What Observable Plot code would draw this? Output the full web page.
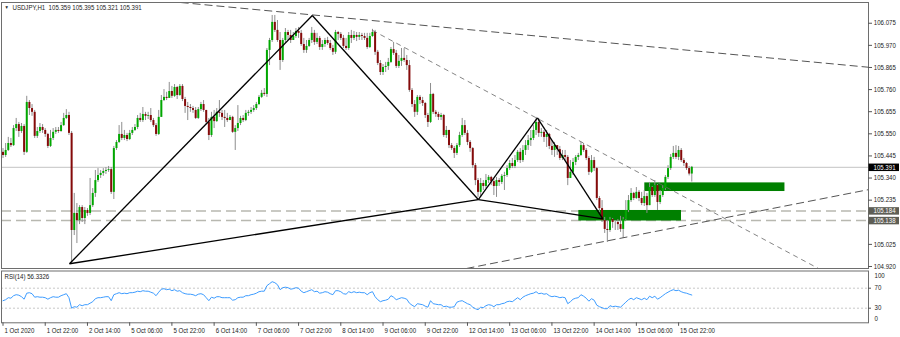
<!DOCTYPE html>
<html><head><meta charset="utf-8">
<script src="https://cdn.jsdelivr.net/npm/d3@7"></script>
<script src="https://cdn.jsdelivr.net/npm/@observablehq/plot@0.6"></script>
<style>
body{margin:0;background:#fff;}
#wrap{width:900px;height:337px;overflow:hidden;background:#fff;}
#wrap svg{display:block;}
</style></head><body><div id="wrap"></div>
<script>
// ---------- data (USDJPY, H1) ----------
const symbolTitle = "USDJPY,H1  105.359 105.395 105.321 105.391";
const firstOpen = 105.462;
const closes = [105.447,105.471,105.504,105.494,105.575,105.594,105.561,105.585,105.462,105.699,
105.670,105.652,105.538,105.561,105.580,105.566,105.547,105.490,105.528,105.557,
105.566,105.561,105.589,105.623,105.637,105.552,105.091,105.172,105.138,105.200,
105.148,105.186,105.172,105.209,105.267,105.328,105.352,105.362,105.371,105.376,
105.380,105.272,105.480,105.509,105.547,105.528,105.542,105.523,105.552,105.566,
105.580,105.623,105.613,105.642,105.633,105.637,105.613,105.589,105.547,105.628,
105.708,105.723,105.718,105.751,105.728,105.770,105.732,105.775,105.713,105.680,
105.675,105.670,105.661,105.623,105.665,105.689,105.661,105.604,105.542,105.628,
105.608,105.652,105.647,105.628,105.623,105.613,105.628,105.557,105.575,105.599,
105.623,105.613,105.647,105.652,105.661,105.670,105.689,105.723,105.742,105.737,
105.946,105.993,106.079,106.041,105.993,105.898,105.993,106.031,106.017,105.993,
106.012,106.036,106.027,105.974,105.946,105.965,105.993,106.027,105.984,106.003,
105.960,105.974,105.993,105.979,105.955,105.937,106.031,106.022,106.003,105.965,
105.955,106.017,106.003,106.017,106.008,106.017,106.012,106.003,105.960,106.012,
106.031,105.937,105.884,105.841,105.865,105.870,105.889,105.950,105.932,105.870,
105.894,105.908,105.898,105.874,105.756,105.689,105.652,105.723,105.708,105.694,
105.637,105.604,105.737,105.652,105.642,105.628,105.637,105.542,105.566,105.494,
105.480,105.457,105.494,105.542,105.589,105.552,105.509,105.480,105.399,105.328,
105.272,105.314,105.300,105.328,105.343,105.323,105.300,105.328,105.319,105.348,
105.352,105.385,105.409,105.395,105.423,105.462,105.423,105.471,105.494,105.518,
105.528,105.566,105.604,105.552,105.557,105.533,105.547,105.490,105.471,105.494,
105.475,105.433,105.447,105.438,105.338,105.367,105.414,105.438,105.447,105.494,
105.471,105.433,105.367,105.423,105.385,105.243,105.195,105.138,105.096,105.091,
105.143,105.129,105.129,105.119,105.096,105.143,105.186,105.233,105.267,105.243,
105.272,105.243,105.219,105.252,105.209,105.295,105.257,105.304,105.224,105.257,
105.290,105.343,105.385,105.438,105.457,105.438,105.471,105.423,105.409,105.385,
105.359,105.391];
const highs = [105.480,105.504,105.533,105.528,105.589,105.623,105.604,105.599,105.594,105.728,
105.708,105.689,105.661,105.580,105.599,105.594,105.575,105.552,105.566,105.575,
105.580,105.580,105.604,105.647,105.665,105.652,105.561,105.267,105.219,105.209,
105.209,105.200,105.195,105.338,105.290,105.376,105.385,105.376,105.385,105.390,
105.395,105.390,105.490,105.518,105.589,105.604,105.566,105.552,105.566,105.580,
105.594,105.637,105.647,105.675,105.652,105.652,105.670,105.623,105.599,105.661,
105.732,105.760,105.747,105.794,105.775,105.784,105.775,105.784,105.784,105.723,
105.699,105.689,105.680,105.675,105.675,105.699,105.708,105.661,105.623,105.652,
105.661,105.670,105.708,105.661,105.661,105.647,105.637,105.633,105.589,105.684,
105.633,105.637,105.661,105.661,105.675,105.684,105.699,105.732,105.756,105.765,
105.955,106.003,106.112,106.112,106.088,106.031,106.003,106.050,106.041,106.041,
106.031,106.050,106.055,106.041,106.003,105.993,106.003,106.055,106.041,106.027,
106.012,105.993,106.003,106.008,105.993,105.970,106.041,106.036,106.031,106.017,
106.003,106.031,106.041,106.036,106.031,106.031,106.027,106.027,106.027,106.027,
106.046,106.041,105.946,105.898,105.879,105.889,105.908,105.960,105.984,105.946,
105.922,105.955,105.955,105.922,105.898,105.765,105.708,105.732,105.732,105.723,
105.699,105.647,105.789,105.742,105.661,105.652,105.647,105.642,105.585,105.566,
105.504,105.490,105.504,105.557,105.623,105.613,105.566,105.518,105.485,105.409,
105.338,105.338,105.328,105.357,105.352,105.348,105.333,105.343,105.338,105.357,
105.367,105.399,105.423,105.433,105.447,105.471,105.480,105.494,105.518,105.542,
105.566,105.589,105.628,105.623,105.575,105.566,105.566,105.552,105.518,105.509,
105.494,105.490,105.471,105.471,105.447,105.423,105.433,105.447,105.457,105.509,
105.504,105.480,105.442,105.447,105.438,105.390,105.252,105.233,105.153,105.138,
105.153,105.148,105.138,105.143,105.158,105.153,105.233,105.257,105.290,105.272,
105.295,105.281,105.272,105.281,105.267,105.319,105.300,105.328,105.309,105.281,
105.304,105.352,105.399,105.452,105.490,105.494,105.490,105.480,105.433,105.414,
105.395,105.395];
const lows = [105.433,105.438,105.466,105.485,105.490,105.561,105.533,105.552,105.447,105.457,
105.637,105.633,105.528,105.528,105.552,105.552,105.533,105.480,105.485,105.518,
105.547,105.552,105.557,105.585,105.618,105.542,104.934,105.067,105.029,105.119,
105.129,105.119,105.158,105.162,105.200,105.248,105.319,105.338,105.348,105.357,
105.367,105.262,105.238,105.471,105.504,105.518,105.518,105.513,105.518,105.542,
105.561,105.570,105.604,105.604,105.613,105.618,105.604,105.580,105.538,105.542,
105.628,105.703,105.708,105.718,105.718,105.723,105.713,105.728,105.703,105.647,
105.613,105.652,105.647,105.618,105.618,105.656,105.652,105.594,105.518,105.533,
105.575,105.604,105.628,105.613,105.580,105.604,105.613,105.552,105.471,105.561,
105.589,105.604,105.608,105.633,105.642,105.652,105.661,105.684,105.718,105.728,
105.723,105.874,105.984,106.031,105.984,105.851,105.889,105.979,105.993,105.979,
105.993,106.003,106.003,105.965,105.932,105.932,105.960,105.979,105.970,105.974,
105.946,105.946,105.960,105.970,105.946,105.922,105.927,105.993,105.993,105.955,
105.946,105.946,105.979,105.993,105.988,105.993,105.993,105.993,105.951,105.955,
106.008,105.922,105.874,105.827,105.827,105.841,105.851,105.884,105.922,105.860,
105.860,105.870,105.889,105.851,105.747,105.675,105.628,105.637,105.689,105.680,
105.623,105.580,105.599,105.642,105.628,105.613,105.613,105.533,105.528,105.480,
105.471,105.433,105.447,105.485,105.533,105.542,105.494,105.462,105.385,105.304,
105.248,105.248,105.281,105.290,105.314,105.304,105.257,105.248,105.300,105.309,
105.281,105.343,105.376,105.385,105.385,105.414,105.409,105.414,105.447,105.471,
105.490,105.518,105.542,105.533,105.533,105.509,105.485,105.475,105.447,105.438,
105.447,105.423,105.423,105.423,105.304,105.338,105.352,105.399,105.423,105.442,
105.462,105.423,105.352,105.362,105.371,105.233,105.176,105.129,105.077,105.034,
105.082,105.101,105.091,105.091,105.082,105.053,105.138,105.176,105.224,105.233,
105.238,105.228,105.209,105.205,105.172,105.209,105.248,105.248,105.186,105.214,
105.248,105.281,105.333,105.376,105.428,105.428,105.423,105.414,105.395,105.376,
105.350,105.321];
const rsiValues = [45,47,51,50,55,57,56,53,48,60,
61,59,52,53,52,52,51,48,51,53,
52,52,55,57,59,51,30,33,32,37,
35,37,37,40,43,49,51,51,52,53,
53,45,57,59,61,59,60,59,61,61,
62,64,63,65,64,64,62,60,55,62,
68,69,67,68,65,67,64,65,61,59,
58,58,57,55,58,59,57,51,45,52,
50,53,53,51,51,51,51,46,47,51,
52,52,55,55,57,58,60,63,64,64,
75,79,83,81,77,67,71,72,71,68,
69,71,70,64,61,63,65,67,63,64,
60,61,63,62,59,57,65,65,63,59,
58,63,61,63,61,62,61,61,57,61,
63,53,47,43,45,46,48,55,52,47,
49,51,50,48,40,36,33,39,38,37,
34,32,45,39,38,37,37,33,34,32,
32,33,42,44,45,42,39,37,32,29,
27,32,31,35,37,36,33,37,37,39,
40,43,44,43,47,51,47,52,55,57,
59,60,63,59,60,58,59,55,53,54,
53,51,52,51,39,43,48,50,51,57,
54,50,44,49,46,36,33,31,29,29,
35,33,34,33,32,37,42,47,50,47,
51,49,47,50,47,54,51,54,48,51,
55,59,62,65,67,65,66,63,61,60,
58,56.3326];
const rsiTitle = "RSI(14) 56.3326";
const rsiLevels = [70, 30];

// axis ticks
const priceTicks = [106.075,105.970,105.865,105.760,105.655,105.550,105.445,105.340,105.235,105.130,105.025,104.920];
const priceTickLabels = [106.075,105.970,105.865,105.760,105.655,105.550,105.445,105.340,105.235,105.025,104.920];
const timeTickBars = [0,16,32,48,64,80,96,112,128,144,160,176,192,208,224,240,256];
const timeTickLabels = ["1 Oct 2020","1 Oct 22:00","2 Oct 14:00","5 Oct 06:00","5 Oct 22:00","6 Oct 14:00","7 Oct 06:00","7 Oct 22:00","8 Oct 14:00","9 Oct 06:00","9 Oct 22:00","12 Oct 14:00","13 Oct 06:00","13 Oct 22:00","14 Oct 14:00","15 Oct 06:00","15 Oct 22:00"];

// drawn objects (bar index, price)
const bidPrice = 105.391;
const levelPrices = [105.184, 105.138];
const patternBars = [25.2, 117.2, 180.1, 202.5, 227.3];
const patternPrices = [104.933, 106.112, 105.238, 105.626, 105.146];
const patternPairs = [[0,1],[1,2],[2,3],[3,4],[0,2],[2,4]];
const longTrendBars = [[67.3, 328.0], [175.6, 328.0]];
const longTrendPrices = [[106.1735, 105.866], [104.9105, 105.285]];
const thinTrendBars = [140.0, 309.0];
const thinTrendPrices = [106.041, 104.9105];
const zoneBars = [[218.2, 257.1], [243.2, 296.3]];
const zonePrices = [[105.136, 105.186], [105.276, 105.317]];

// ---------- build ----------
const FONT = "'Liberation Sans',Arial,sans-serif";
const TEXT_SQUEEZE = 0.87;
const xDomain = [-0.57, 327.96];
const xMax = xDomain[1];
const barsPerPx = (xDomain[1] - xDomain[0]) / 867;
const bars = closes.map((c, i) => ({i, o: i === 0 ? firstOpen : closes[i-1], h: highs[i], l: lows[i], c}));
const bull = bars.filter(d => d.c >= d.o);
const bear = bars.filter(d => d.c < d.o);
const patternSegs = patternPairs.map(([a,b]) => ({x1: patternBars[a], y1: patternPrices[a], x2: patternBars[b], y2: patternPrices[b]}));
const longSegs = longTrendBars.map((b, k) => ({x1: b[0], x2: b[1], y1: longTrendPrices[k][0], y2: longTrendPrices[k][1]}));
const thinSegs = [{x1: thinTrendBars[0], x2: thinTrendBars[1], y1: thinTrendPrices[0], y2: thinTrendPrices[1]}];
const zones = zoneBars.map((b, k) => ({x1: b[0], x2: b[1], y1: zonePrices[k][0], y2: zonePrices[k][1]}));
const boxes = [{v: bidPrice, fill: "#000"}, {v: levelPrices[0], fill: "#5e5e55"}, {v: levelPrices[1], fill: "#5e5e55"}];
const boxEnd = xMax + 31 * barsPerPx;

const main = Plot.plot({
  width: 900, height: 269,
  marginLeft: 1, marginRight: 32, marginTop: 2, marginBottom: 1,
  x: {domain: xDomain, axis: null},
  y: {domain: [104.9105, 106.1735], axis: null},
  style: {fontFamily: FONT, fontSize: "7px", background: "#fff", color: "#1a1a1a"},
  marks: [
    Plot.ruleY([bidPrice], {stroke: "#c4c4c4", strokeWidth: 1}),
    Plot.ruleY(levelPrices, {stroke: "#b8b8b0", strokeWidth: 1.5, strokeDasharray: "10,5"}),
    Plot.rect(zones, {x1: "x1", x2: "x2", y1: "y1", y2: "y2", fill: "#008000"}),
    Plot.ruleX(bars, {x: "i", y1: "l", y2: "h", stroke: "#8e8e8e", strokeWidth: 1}),
    Plot.ruleX(bull, {x: "i", y1: "o", y2: "c", stroke: "#00a800", strokeWidth: 2}),
    Plot.ruleX(bear, {x: "i", y1: "o", y2: "c", stroke: "#850a0a", strokeWidth: 2}),
    Plot.link(longSegs, {x1: "x1", y1: "y1", x2: "x2", y2: "y2", stroke: "#555", strokeWidth: 1, strokeDasharray: "8,4", clip: true}),
    Plot.link(thinSegs, {x1: "x1", y1: "y1", x2: "x2", y2: "y2", stroke: "#666", strokeWidth: 0.8, strokeDasharray: "5,4", clip: true}),
    Plot.link(patternSegs, {x1: "x1", y1: "y1", x2: "x2", y2: "y2", stroke: "#000", strokeWidth: 1.3, clip: true}),
    Plot.frame({stroke: "#6e6e6e"}),
    Plot.ruleY(priceTicks, {x1: xMax, x2: xMax + 4 * barsPerPx, stroke: "#555"}),
    Plot.text(priceTickLabels, {x: xMax, y: d => d, text: d => d.toFixed(3), dx: 5.3, textAnchor: "start", fill: "#1a1a1a"}),
    Plot.ruleY(boxes, {y: "v", x1: xMax + 0.5 * barsPerPx, x2: boxEnd, stroke: "fill", strokeWidth: 7.5}),
    Plot.text(boxes, {x: xMax, y: "v", text: d => d.v.toFixed(3), dx: 5, textAnchor: "start", fill: "#fff"}),
    Plot.text(["\u25BC"], {frameAnchor: "top-left", dx: 3, dy: 3, lineAnchor: "top", fontSize: 5, fill: "#222"}),
    Plot.text([symbolTitle], {frameAnchor: "top-left", dx: 11, dy: 2.5, lineAnchor: "top", fill: "#1a1a1a"})
  ]
});

const rsiPlot = Plot.plot({
  width: 900, height: 68,
  marginLeft: 1, marginRight: 32, marginTop: 1.5, marginBottom: 14.7,
  x: {domain: xDomain, axis: null},
  y: {domain: [0.8, 104.4], axis: null},
  style: {fontFamily: FONT, fontSize: "7px", background: "#fff", color: "#1a1a1a"},
  marks: [
    Plot.ruleY(rsiLevels, {stroke: "#c8c8c8", strokeDasharray: "2,2"}),
    Plot.line(rsiValues, {x: (d, i) => i, y: d => d, stroke: "#3d9cff", strokeWidth: 1}),
    Plot.frame({stroke: "#6e6e6e"}),
    Plot.ruleY(rsiLevels, {x1: xMax, x2: xMax + 3 * barsPerPx, stroke: "#555"}),
    Plot.text(rsiLevels, {x: xMax, y: d => d, text: d => String(d), dx: 6, textAnchor: "start"}),
    Plot.text([100], {x: xMax, y: d => d, text: d => String(d), dx: 6, dy: 2.5, textAnchor: "start"}),
    Plot.text([0], {x: xMax, y: d => d, text: d => String(d), dx: 6, dy: -4, textAnchor: "start"}),
    Plot.text([rsiTitle], {frameAnchor: "top-left", dx: 3, dy: 3, lineAnchor: "top"}),
    Plot.ruleX(timeTickBars, {y1: 0.8, y2: 0.8 - 7, stroke: "#555", clip: false}),
    Plot.text(timeTickBars, {x: d => d, y: 0.8, text: (d, k) => timeTickLabels[k], dx: 1.5, dy: 5, lineAnchor: "top", textAnchor: "start"})
  ]
});

const wrap = document.getElementById("wrap");
wrap.appendChild(main);
wrap.appendChild(rsiPlot);
// MetaTrader's narrow label lettering: squeeze each label horizontally
for (const svg of [main, rsiPlot]) {
  svg.querySelectorAll("text").forEach(t => {
    const w = t.getComputedTextLength();
    if (w > 0) {
      t.setAttribute("textLength", (w * TEXT_SQUEEZE).toFixed(2));
      t.setAttribute("lengthAdjust", "spacingAndGlyphs");
    }
  });
}
</script></body></html>
